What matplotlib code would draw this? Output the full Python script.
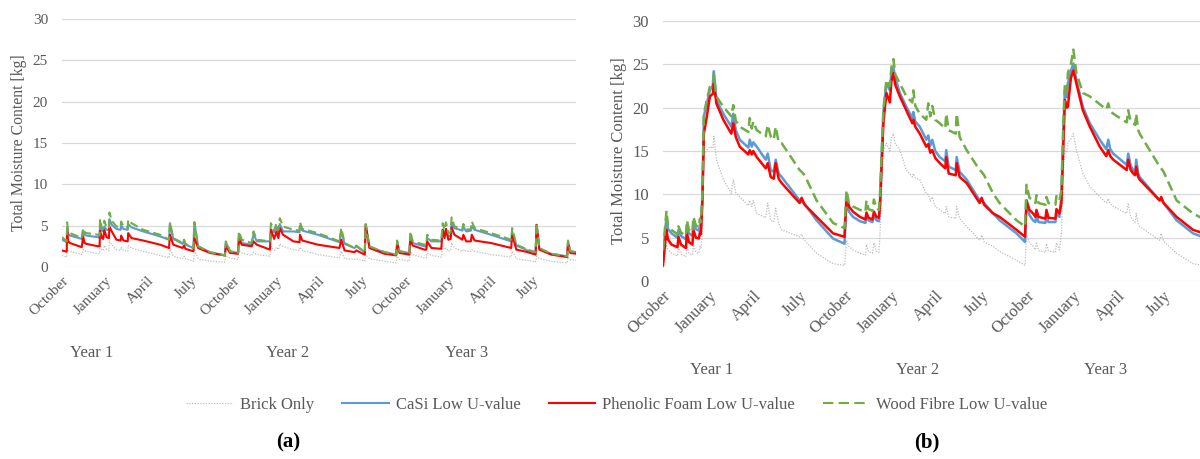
## moisture content plots, two wall build-ups side by side
import matplotlib
matplotlib.use('Agg')
import matplotlib.pyplot as plt
from matplotlib.lines import Line2D
import numpy as np

plt.rcParams['font.family'] = ['Liberation Serif', 'DejaVu Serif']

################################################################
## (a) days since 1 October, year 1
days_a = [0, 10, 11, 13, 17, 42, 45, 48, 52, 77,
          80, 81, 85, 88, 90, 95, 100, 101, 106, 116,
          125, 126, 131, 140, 141, 148, 173, 209, 228, 230,
          237, 257, 260, 263, 280, 282, 290, 315, 347, 349,
          358, 375, 377, 383, 404, 408, 415, 443, 445, 452,
          457, 461, 464, 471, 493, 506, 507, 512, 545, 591,
          595, 602, 623, 627, 645, 647, 655, 687, 712, 714,
          719, 740, 742, 747, 772, 776, 778, 787, 808, 811,
          815, 818, 823, 828, 830, 836, 853, 855, 861, 871,
          873, 879, 914, 957, 959, 968, 992, 1009, 1011, 1017,
          1042, 1076, 1078, 1083, 1095]

brick_a = [1.4, 1.2, 2.3, 2.0, 1.9, 1.5, 2.1, 1.9, 1.9, 1.6,
           1.6, 2.8, 2.1, 2.0, 2.6, 2.1, 2.0, 3.2, 2.7, 2.1,
           2.0, 2.4, 2.0, 1.9, 2.6, 2.3, 1.9, 1.4, 1.1, 2.3,
           1.3, 1.0, 1.3, 1.0, 0.7, 2.0, 1.0, 0.7, 0.6, 1.4,
           1.1, 0.9, 2.0, 1.7, 1.4, 1.8, 1.5, 1.3, 2.5, 2.0,
           2.4, 2.1, 2.8, 2.5, 2.1, 2.0, 2.4, 2.0, 1.5, 1.1,
           1.9, 1.0, 0.9, 1.0, 0.7, 1.5, 1.0, 0.7, 0.5, 1.3,
           0.9, 0.7, 1.9, 1.5, 1.1, 1.1, 1.7, 1.4, 1.2, 2.5,
           2.1, 2.3, 1.9, 2.0, 2.9, 2.3, 1.9, 2.1, 1.9, 1.9,
           2.1, 1.9, 1.5, 1.2, 1.9, 1.0, 0.8, 0.6, 1.3, 1.0,
           0.7, 0.5, 1.2, 0.9, 0.8]

casi_a = [3.3, 3.0, 4.6, 4.0, 3.8, 3.4, 4.3, 3.9, 3.8, 3.6,
          3.6, 5.0, 4.4, 4.3, 4.9, 4.5, 4.5, 5.8, 5.1, 4.6,
          4.5, 5.0, 4.6, 4.5, 5.2, 4.8, 4.3, 3.7, 3.3, 5.3,
          3.4, 2.8, 3.2, 2.7, 2.3, 5.4, 2.5, 1.8, 1.4, 3.0,
          1.9, 1.7, 4.0, 2.9, 2.7, 4.0, 3.1, 3.1, 4.5, 4.2,
          4.8, 4.3, 5.2, 4.3, 4.3, 4.2, 5.0, 4.4, 3.9, 3.0,
          4.3, 2.8, 2.3, 2.5, 1.8, 5.1, 2.4, 1.8, 1.5, 3.0,
          1.9, 1.7, 3.7, 2.9, 2.5, 2.5, 3.5, 3.1, 3.1, 4.5,
          3.9, 4.6, 3.7, 3.8, 5.3, 4.7, 4.4, 4.9, 4.3, 4.4,
          4.9, 4.5, 3.9, 3.1, 4.3, 2.6, 2.0, 1.8, 5.1, 2.2,
          1.6, 1.3, 3.0, 1.9, 1.8]

phenolic_a = [2.0, 1.85, 4.4, 3.1, 2.9, 2.4, 3.7, 2.9, 2.8, 2.5,
              2.5, 4.4, 3.5, 3.4, 4.5, 3.6, 3.5, 4.9, 4.3, 3.3,
              3.2, 3.8, 3.2, 3.1, 4.1, 3.5, 3.2, 2.7, 2.3, 3.9,
              2.7, 2.3, 2.6, 2.2, 1.9, 3.5, 2.3, 1.7, 1.4, 2.5,
              1.7, 1.6, 3.4, 2.7, 2.5, 3.1, 2.7, 2.1, 4.5, 3.4,
              4.3, 3.5, 4.7, 3.9, 3.1, 3.0, 3.9, 3.2, 2.7, 2.3,
              3.3, 2.0, 1.8, 2.0, 1.5, 5.1, 2.3, 1.6, 1.4, 2.8,
              1.7, 1.5, 3.5, 2.6, 2.1, 2.1, 3.1, 2.3, 2.2, 4.5,
              3.5, 4.6, 3.3, 3.4, 4.8, 3.9, 3.3, 3.9, 3.1, 3.1,
              3.9, 3.2, 2.9, 2.3, 3.9, 2.1, 1.8, 1.5, 5.1, 2.1,
              1.5, 1.2, 2.9, 1.7, 1.6]

wood_a = [3.6, 3.1, 5.4, 4.3, 4.1, 3.5, 4.7, 4.2, 4.1, 3.9,
          3.8, 5.8, 4.7, 4.6, 5.6, 4.8, 4.7, 6.6, 5.6, 4.9,
          4.8, 5.5, 4.9, 4.8, 5.7, 5.3, 4.5, 3.9, 3.3, 5.3,
          3.5, 2.9, 3.3, 2.8, 2.3, 5.4, 2.5, 1.8, 1.4, 3.1,
          1.9, 1.7, 4.3, 3.3, 2.9, 4.3, 3.3, 3.1, 5.3, 4.4,
          5.3, 4.5, 5.9, 4.9, 4.5, 4.4, 5.4, 4.6, 4.1, 3.1,
          4.7, 2.9, 2.3, 2.6, 1.8, 5.2, 2.5, 1.8, 1.5, 3.2,
          1.9, 1.7, 4.3, 3.1, 2.7, 2.7, 3.9, 3.3, 3.2, 5.3,
          4.5, 5.4, 4.1, 4.2, 6.0, 4.9, 4.6, 5.2, 4.5, 4.6,
          5.5, 4.7, 4.1, 3.3, 4.7, 2.7, 2.1, 1.8, 5.3, 2.3,
          1.6, 1.3, 3.2, 1.9, 1.8]

################################################################
## (b)
days_b = [0, 7, 10, 17, 29, 31, 36, 46, 48, 52,
          59, 61, 66, 72, 74, 76, 79, 82, 88, 94,
          100, 102, 107, 121, 137, 141, 146, 154, 171, 174,
          178, 181, 188, 206, 210, 216, 222, 226, 232, 238,
          274, 278, 284, 308, 341, 364, 368, 373, 381, 395,
          406, 408, 412, 420, 423, 428, 433, 435, 438, 442,
          448, 455, 458, 462, 466, 475, 488, 500, 502, 506,
          515, 528, 532, 536, 540, 546, 555, 566, 568, 573,
          587, 589, 595, 609, 635, 639, 644, 662, 675, 709,
          726, 729, 735, 742, 747, 749, 753, 767, 769, 773,
          787, 789, 795, 799, 803, 806, 810, 812, 818, 823,
          829, 842, 856, 876, 889, 893, 897, 903, 930, 933,
          938, 943, 947, 949, 953, 956, 996, 999, 1004, 1030,
          1063, 1095]

brick_b = [1.5, 4.2, 3.6, 3.2, 2.9, 3.8, 3.1, 2.8, 4.0, 3.2,
           3.0, 4.2, 3.3, 3.2, 4.0, 3.8, 5.5, 14.5, 15.1, 15.5,
           15.3, 16.7, 14.0, 11.7, 10.1, 11.7, 10.2, 9.7, 8.7, 9.3,
           8.6, 9.3, 7.8, 7.3, 9.0, 7.0, 6.8, 8.4, 6.6, 5.9,
           5.1, 5.4, 4.7, 3.2, 2.0, 1.8, 4.7, 4.0, 3.6, 3.2,
           3.0, 4.2, 3.4, 3.2, 4.4, 3.4, 3.3, 5.2, 9.0, 15.1,
           15.9, 15.0, 16.5, 17.0, 15.8, 15.1, 12.8, 12.0, 12.4, 11.9,
           11.7, 10.1, 10.0, 9.2, 9.7, 8.6, 8.2, 7.8, 8.6, 7.4,
           7.2, 8.6, 7.2, 6.3, 4.7, 5.3, 4.5, 4.0, 3.4, 2.4,
           1.8, 5.3, 4.4, 4.0, 3.6, 4.5, 3.5, 3.3, 4.3, 3.5,
           3.3, 4.4, 3.6, 5.5, 12.5, 15.1, 14.8, 16.0, 16.4, 17.0,
           15.1, 12.4, 10.9, 9.7, 9.0, 9.5, 8.9, 8.6, 7.8, 9.0,
           7.4, 7.0, 6.8, 7.8, 6.6, 6.3, 4.7, 5.5, 4.6, 3.2,
           2.0, 1.7]

casi_b = [3.0, 7.4, 6.0, 5.5, 5.0, 5.9, 5.2, 4.8, 6.3, 5.5,
          5.2, 6.7, 6.0, 5.8, 6.5, 6.3, 9.6, 19.0, 20.5, 22.0,
          22.6, 24.2, 20.9, 19.3, 17.8, 19.3, 17.4, 16.3, 15.4, 16.3,
          15.5, 16.0, 15.5, 14.0, 14.7, 12.8, 12.6, 14.0, 12.4, 12.0,
          9.3, 9.2, 8.9, 7.0, 4.9, 4.3, 9.2, 8.0, 7.4, 6.9,
          6.7, 7.8, 7.0, 6.8, 7.6, 7.0, 6.9, 8.6, 13.5, 19.5,
          22.8, 22.0, 24.0, 24.6, 23.4, 21.7, 20.1, 18.8, 19.5, 18.4,
          17.8, 16.3, 16.8, 15.6, 16.3, 15.0, 14.3, 13.8, 15.1, 13.2,
          12.8, 14.3, 12.6, 11.7, 9.3, 9.4, 9.0, 7.8, 7.0, 5.5,
          4.5, 9.0, 7.6, 7.0, 6.8, 7.8, 6.8, 6.7, 7.7, 6.8,
          6.8, 7.8, 7.4, 9.8, 17.6, 22.0, 21.2, 22.8, 24.2, 25.1,
          23.2, 20.1, 18.2, 16.3, 15.2, 16.3, 15.2, 14.7, 13.4, 14.7,
          13.3, 12.8, 12.6, 14.0, 12.4, 12.0, 9.3, 9.4, 9.0, 7.0,
          5.5, 4.8]

phenolic_b = [1.8, 5.9, 4.8, 4.2, 3.9, 5.1, 4.2, 3.8, 5.5, 4.5,
              4.2, 5.9, 5.0, 4.9, 5.6, 5.4, 9.3, 17.0, 19.0, 21.3,
              21.6, 22.8, 20.5, 18.6, 17.0, 18.2, 16.6, 15.5, 14.6, 15.1,
              14.6, 15.0, 14.3, 13.0, 13.6, 12.0, 11.8, 13.6, 11.8, 11.3,
              9.0, 9.6, 8.8, 7.4, 5.5, 5.1, 9.7, 8.6, 8.0, 7.4,
              7.1, 7.9, 7.3, 7.1, 8.0, 7.4, 7.3, 8.6, 12.8, 18.2,
              21.7, 20.6, 23.0, 24.0, 22.6, 21.3, 19.7, 18.2, 18.6, 17.8,
              17.0, 15.5, 15.8, 14.8, 15.1, 14.2, 13.6, 13.0, 14.3, 12.4,
              12.2, 13.6, 12.0, 11.3, 9.0, 9.6, 8.8, 7.8, 7.4, 5.9,
              5.1, 9.3, 8.2, 7.8, 7.4, 8.2, 7.4, 7.2, 8.2, 7.3,
              7.2, 8.3, 7.8, 9.0, 16.0, 20.9, 20.0, 20.1, 23.4, 24.3,
              22.8, 19.7, 17.8, 15.5, 14.4, 15.1, 14.4, 14.0, 12.8, 14.0,
              12.8, 12.4, 12.2, 13.2, 12.0, 11.7, 9.3, 9.7, 9.0, 7.4,
              5.9, 5.3]

wood_b = [3.5, 8.1, 6.4, 5.9, 5.4, 6.3, 5.6, 5.2, 7.0, 5.9,
          5.6, 7.4, 6.4, 6.2, 7.2, 6.8, 10.1, 19.3, 20.9, 22.4,
          22.8, 23.8, 21.3, 20.1, 19.0, 20.3, 18.5, 17.8, 17.2, 18.8,
          17.6, 18.4, 17.4, 16.7, 18.0, 16.7, 16.3, 17.8, 16.0, 15.9,
          12.8, 12.6, 12.2, 9.3, 6.7, 6.1, 10.5, 8.9, 8.6, 8.2,
          8.0, 9.3, 8.3, 8.1, 9.4, 8.4, 8.2, 9.8, 14.0, 19.7,
          23.2, 22.5, 24.6, 25.6, 23.8, 22.8, 21.3, 20.6, 22.0, 20.2,
          19.3, 18.6, 20.5, 19.0, 20.2, 18.6, 18.2, 17.6, 19.3, 17.4,
          17.0, 19.3, 16.6, 15.1, 12.8, 12.6, 12.2, 10.1, 9.0, 7.0,
          6.3, 11.1, 9.6, 9.3, 9.0, 9.9, 9.0, 8.8, 9.7, 9.0,
          8.8, 9.8, 9.3, 10.5, 18.5, 22.8, 22.0, 24.0, 25.0, 26.7,
          24.0, 21.7, 21.3, 20.4, 19.8, 20.5, 19.6, 19.3, 18.3, 19.7,
          18.4, 18.2, 18.0, 19.3, 17.4, 17.0, 13.2, 13.0, 12.6, 9.3,
          7.8, 6.8]

month_days   = [0, 92, 182, 273, 365, 457, 547, 638, 730, 822, 912, 1003]
month_labels = ['October', 'January', 'April', 'July'] * 3
year_labels  = ['Year 1', 'Year 2', 'Year 3']
series_names = ['Brick Only', 'CaSi Low U-value',
                'Phenolic Foam Low U-value', 'Wood Fibre Low U-value']

GREY_TXT = '#595959'
C_BRICK  = '#BDBDBD'
C_CASI   = '#5B9BD5'
C_PHEN   = '#FF0000'
C_WOOD   = '#70AD47'

W, H = 1200., 459.

################################################################
def draw_panel(ax, days, brick, casi, phen, wood, lw, fs, fs_lab):

  ax.plot(days, brick, color=C_BRICK, lw=0.9, ls=(0, (1, 1.2)))
  ax.plot(days, casi, color=C_CASI, lw=lw)
  ax.plot(days, phen, color=C_PHEN, lw=lw)
  ax.plot(days, wood, color=C_WOOD, lw=lw, ls=(0, (4, 2)))

  ax.set_xlim(0, 1095)
  ax.set_ylim(0, 30)
  ax.set_yticks(np.arange(0, 31, 5))
  ax.yaxis.grid(True, color='#D9D9D9', lw=0.9)
  ax.set_axisbelow(True)
  for s in ax.spines.values():
    s.set_visible(False)

  ax.set_xticks(month_days)
  ax.set_xticklabels(month_labels, rotation=45, ha='right',
                     rotation_mode='anchor', fontsize=fs)
  ax.tick_params(length=0, labelcolor=GREY_TXT, labelsize=fs)
  ax.tick_params(axis='x', pad=5)
  ax.tick_params(axis='y', pad=10)
  ax.set_ylabel('Total Moisture Content [kg]', color=GREY_TXT,
                fontsize=fs_lab, labelpad=4)

##########################################################################

if __name__ == '__main__':

  fig = plt.figure(figsize=(12, 4.59), dpi=100)

  ax1 = fig.add_axes([62/W, 1 - 267/H, (576-62)/W, (267-19)/H])
  draw_panel(ax1, days_a, brick_a, casi_a, phenolic_a, wood_a, 1.5, 11, 11.3)

  # right panel runs past the figure edge
  ax2 = fig.add_axes([663/W, 1 - 281/H, (1209-663)/W, (281-21)/H])
  draw_panel(ax2, days_b, brick_b, casi_b, phenolic_b, wood_b, 1.8, 12, 12)

  for x, lab in zip([92, 288, 467], year_labels):
    fig.text(x/W, 1 - 353/H, lab, ha='center', va='center',
             fontsize=12, color=GREY_TXT)
  for x, lab in zip([712, 918, 1106], year_labels):
    fig.text(x/W, 1 - 370/H, lab, ha='center', va='center',
             fontsize=12, color=GREY_TXT)

  handles = [Line2D([], [], color=C_BRICK, lw=0.9, ls=(0, (1, 1.2))),
             Line2D([], [], color=C_CASI, lw=1.5),
             Line2D([], [], color=C_PHEN, lw=1.5),
             Line2D([], [], color=C_WOOD, lw=1.5, ls=(0, (5, 2.5)))]
  leg = fig.legend(handles, series_names, loc='center', ncol=4,
                   bbox_to_anchor=(617/W, 1 - 405/H), frameon=False,
                   fontsize=12, handlelength=2.8, handletextpad=0.4,
                   columnspacing=1.7)
  for t in leg.get_texts():
    t.set_color(GREY_TXT)

  fig.text(288/W, 1 - 442/H, '(a)', ha='center', va='center',
           fontsize=15, fontweight='bold', color='black')
  fig.text(927/W, 1 - 442/H, '(b)', ha='center', va='center',
           fontsize=15, fontweight='bold', color='black')

  fig.savefig('out.png', dpi=100)
